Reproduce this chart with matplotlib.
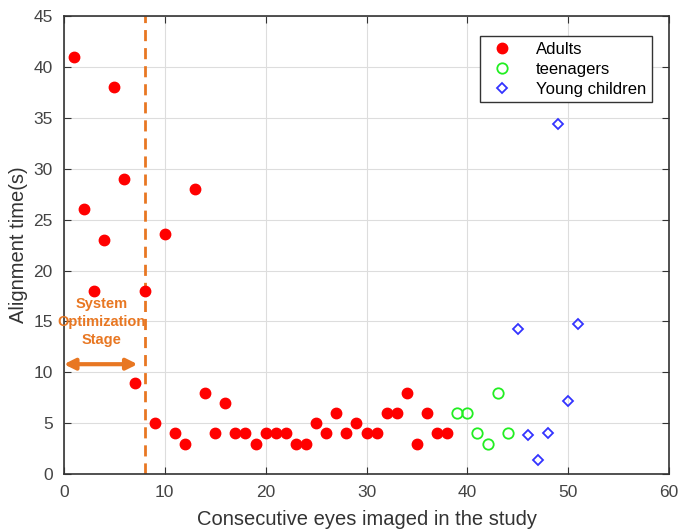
import matplotlib
matplotlib.use("Agg")
import matplotlib.pyplot as plt

plt.rcParams['font.family'] = ['Liberation Sans', 'DejaVu Sans']

# eye index and alignment time (s)
adult_x = list(range(1, 39))
adult_y = [41, 26, 18, 23, 38, 29, 9, 18, 5, 23.6, 4, 3, 28, 8, 4, 7, 4, 4, 3, 4,
           4, 4, 3, 3, 5, 4, 6, 4, 5, 4, 4, 6, 6, 8, 3, 6, 4, 4]
teen_x = [39, 40, 41, 42, 43, 44]
teen_y = [6, 6, 4, 3, 8, 4]
child_x = [45, 46, 47, 48, 49, 50, 51]
child_y = [14.3, 3.8, 1.4, 4.0, 34.4, 7.2, 14.7]

stage_end = 8

fig = plt.figure(figsize=(6.8, 5.31), dpi=100)
ax = fig.add_axes([0.094, 0.107, 0.89, 0.863])

ax.plot(adult_x, adult_y, 'o', color='red', markersize=7.5, label='Adults', zorder=3)
ax.plot(teen_x, teen_y, 'o', mfc='none', mec='#22ee22', mew=1.3, markersize=7.5,
        label='teenagers', zorder=3)
ax.plot(child_x, child_y, 'D', mfc='none', mec='#3333ff', mew=1.3, markersize=5.5,
        label='Young children', zorder=3)

ax.axvline(stage_end, color='#e87722', lw=2, ls=(0, (4, 2.5)), zorder=2)
ax.annotate('', xy=(0, 10.8), xytext=(7.3, 10.8),
            arrowprops=dict(arrowstyle='<|-|>', color='#e87722', lw=3,
                            mutation_scale=16, shrinkA=0, shrinkB=0))
ax.text(3.75, 14.95, 'System\nOptimization\nStage', color='#e87722', fontsize=10.5,
        fontweight='bold', ha='center', va='center', linespacing=1.35, zorder=4)

ax.set_xlim(0, 60)
ax.set_ylim(0, 45)
ax.set_xticks(range(0, 61, 10))
ax.set_yticks(range(0, 46, 5))
ax.grid(True, color='#dddddd', lw=0.8)
ax.set_axisbelow(True)
ax.tick_params(direction='in', top=True, right=True, labelsize=12.5,
               labelcolor='#444444', color='#333333', length=5, pad=8)
for s in ax.spines.values():
    s.set_color('#333333')
    s.set_linewidth(1.2)

ax.set_xlabel('Consecutive eyes imaged in the study', fontsize=14.5, color='#333333',
              labelpad=7)
ax.set_ylabel('Alignment time(s)', fontsize=14.5, color='#333333')

leg = ax.legend(loc='upper right', bbox_to_anchor=(0.985, 0.975), fontsize=12,
                fancybox=False, edgecolor='#333333', framealpha=1,
                handletextpad=1.0, borderpad=0.35, labelspacing=0.3)
leg.get_frame().set_linewidth(1)

fig.savefig('out.png', dpi=100)
